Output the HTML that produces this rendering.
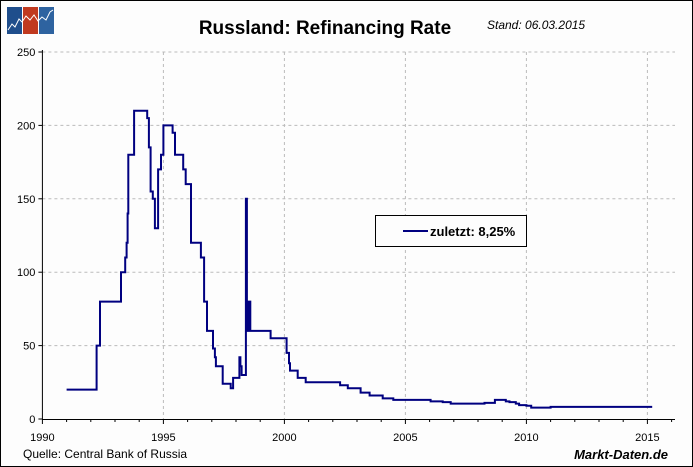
<!DOCTYPE html>
<html><head><meta charset="utf-8">
<style>
html,body{margin:0;padding:0;background:#fff;}
#wrap{position:relative;width:693px;height:467px;overflow:hidden;font-family:"Liberation Sans",sans-serif;}
svg text{font-family:"Liberation Sans",sans-serif;}
</style></head>
<body>
<div id="wrap">
<svg id="chart" width="693" height="467" xmlns="http://www.w3.org/2000/svg">
  <rect x="0.5" y="0.5" width="692" height="466" fill="#fdfdfd" stroke="#000"/>
  <g>
    <rect x="7" y="7" width="15" height="27" fill="#1f4e8c"/>
    <rect x="23" y="7" width="15" height="27" fill="#c0391f"/>
    <rect x="39" y="7" width="15" height="27" fill="#2e63a0"/>
    <polyline points="8,30 12,24 15,27 19,19 22,22 26,16 30,20 34,15 38,21 42,17 46,20 50,12 53,10" fill="none" stroke="#fff" stroke-width="1"/>
  </g>
  <text x="325" y="34" text-anchor="middle" font-size="19" font-weight="bold" fill="#000">Russland: Refinancing Rate</text>
  <text x="487" y="29" font-size="12" font-style="italic" fill="#000">Stand: 06.03.2015</text>
  <g id="grid"></g>
  <g id="axes"></g>
  <g id="series"></g>
  <g>
    <rect x="375.5" y="215.5" width="151" height="31" fill="#fdfdfd" stroke="#000"/>
    <line x1="403" y1="231" x2="428" y2="231" stroke="#000080" stroke-width="2"/>
    <text x="430" y="236" font-size="13" font-weight="bold" fill="#000">zuletzt: 8,25%</text>
  </g>
  <text x="23" y="458" font-size="12" fill="#000">Quelle: Central Bank of Russia</text>
  <text x="668" y="459" text-anchor="end" font-size="13" font-weight="bold" font-style="italic" fill="#000">Markt-Daten.de</text>
</svg>
</div>
<script>
const years = [1991.0,1992.24,1992.38,1993.25,1993.42,1993.48,1993.52,1993.55,1993.79,1994.33,1994.40,1994.47,1994.56,1994.65,1994.78,1994.90,1995.0,1995.38,1995.48,1995.82,1995.92,1996.14,1996.55,1996.68,1996.80,1997.05,1997.13,1997.17,1997.45,1997.78,1997.88,1998.14,1998.18,1998.23,1998.41,1998.45,1998.51,1998.59,1999.43,2000.09,2000.19,2000.23,2000.55,2000.88,2002.3,2002.62,2003.15,2003.52,2004.06,2004.5,2006.04,2006.54,2006.87,2008.27,2008.7,2009.15,2009.3,2009.56,2009.7,2010.0,2010.2,2011.0,2015.2];
const rates = [20,50,80,100,110,120,140,180,210,205,185,155,150,130,170,180,200,195,180,170,160,120,110,80,60,48,42,36,24,21,28,42,36,30,150,60,80,60,55,45,38,33,28,25,23,21,18,16,14,13,12,11.5,10.5,11,13,12,11.5,10.5,9.5,9,7.75,8.25,8.25];
const yTicks = [0,50,100,150,200,250];
const xTicks = [1990,1995,2000,2005,2010,2015];

const NS = "http://www.w3.org/2000/svg";
const X0 = 42.4, PXY = 24.2, Y0 = 419, PXV = 1.468;
function xs(y){ return X0 + (y - 1990) * PXY; }
function ys(v){ return Y0 - v * PXV; }
function mk(tag, attrs, parent){ const e = document.createElementNS(NS, tag); for (const k in attrs) e.setAttribute(k, attrs[k]); parent.appendChild(e); return e; }

const grid = document.getElementById('grid');
const axes = document.getElementById('axes');
const series = document.getElementById('series');
const right = 675;

yTicks.forEach(function(v){
  if (v > 0) {
    const g = mk('line', {x1: X0, x2: right, y1: ys(v), y2: ys(v), stroke: '#bbb', 'stroke-dasharray': '3,3'}, grid);
    
    
  }
  const t = mk('line', {x1: X0 - 4, x2: X0, y1: ys(v), y2: ys(v), stroke: '#000'}, axes);
  
  
  const l = mk('text', {x: X0 - 7, y: ys(v) + 4, 'text-anchor': 'end', 'font-size': '11', fill: '#000'}, axes);
  l.textContent = v;
  
  
});
xTicks.forEach(function(yr){
  if (yr > 1990) {
    const g = mk('line', {x1: xs(yr), x2: xs(yr), y1: 52, y2: Y0, stroke: '#bbb', 'stroke-dasharray': '3,3'}, grid);
    
    
  }
  const l = mk('text', {x: xs(yr), y: 441, 'text-anchor': 'middle', 'font-size': '11', fill: '#000'}, axes);
  l.textContent = yr;
  
  
});
for (let yr = 1990; yr <= 2016; yr++) {
  const big = yr % 5 === 0;
  const t = mk('line', {x1: xs(yr), x2: xs(yr), y1: Y0, y2: Y0 + (big ? 5 : 3), stroke: '#000'}, axes);
  
  
}
const ya = mk('line', {x1: X0, x2: X0, y1: 50, y2: Y0, stroke: '#000'}, axes);


const xa = mk('line', {x1: X0, x2: right, y1: Y0 + 0.5, y2: Y0 + 0.5, stroke: '#000'}, axes);



let d = '';
for (let i = 0; i < years.length; i++) {
  const x = xs(years[i]).toFixed(1);
  if (i === 0) d += 'M' + x + ',' + ys(rates[i]).toFixed(1);
  else d += ' H' + x + ' V' + ys(rates[i]).toFixed(1);
}
const path = mk('path', {d: d, fill: 'none', stroke: '#000080', 'stroke-width': '2', 'stroke-linejoin': 'miter'}, series);


</script>
</body></html>
